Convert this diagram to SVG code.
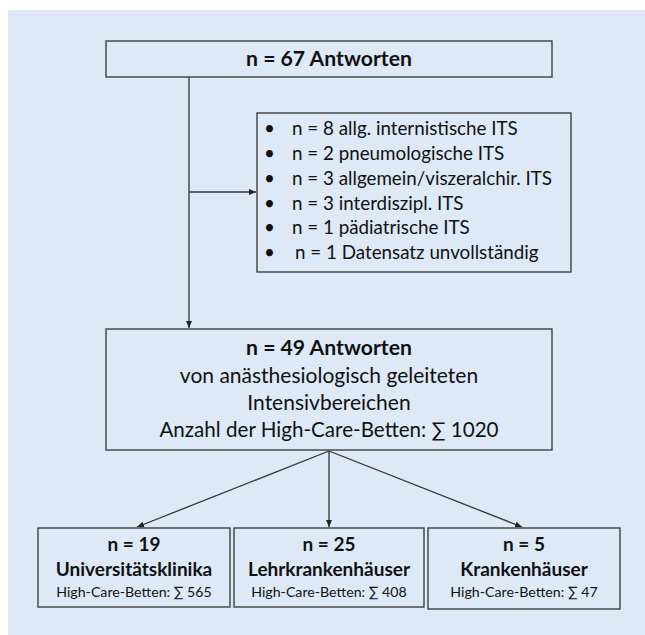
<svg xmlns="http://www.w3.org/2000/svg" width="645" height="635" viewBox="0 0 645 635">
<defs>
<style>
.box{fill:#dde9f6;stroke:#3f3f3f;stroke-width:1.4}
.t{font-family:Lato,"Open Sans","Liberation Sans",sans-serif;fill:#111;text-anchor:middle}
.b{font-weight:bold}
.l{font-family:Lato,"Open Sans","Liberation Sans",sans-serif;fill:#111;font-size:18.8px}
.c{fill:none;stroke:#333;stroke-width:1.3}
</style>
<marker id="ah" markerWidth="8" markerHeight="8" refX="7" refY="4" orient="auto" markerUnits="userSpaceOnUse">
<path d="M0,1 L7,4 L0,7 Z" fill="#222"/>
</marker>
</defs>
<rect x="0" y="0" width="645" height="635" fill="#ffffff"/>
<rect x="8" y="10" width="637" height="625" fill="#dde9f6"/>
<g id="connectors">
<path class="c" d="M189,77 V328" marker-end="url(#ah)"/>
<path class="c" d="M189,192 H256" marker-end="url(#ah)"/>
<path class="c" d="M329,451 L137,527" marker-end="url(#ah)"/>
<path class="c" d="M329,451 V527" marker-end="url(#ah)"/>
<path class="c" d="M329,451 L522,527" marker-end="url(#ah)"/>
</g>
<g id="n67">
<rect class="box" x="106" y="41" width="446" height="36"/>
<text class="t b" x="329" y="66" font-size="21.2">n = 67 Antworten</text>
</g>
<g id="excluded">
<rect class="box" x="257" y="113" width="314" height="159"/>
<g class="l">
<text x="264" y="135">•</text><text x="292" y="135">n = 8 allg. internistische ITS</text>
<text x="264" y="160">•</text><text x="292" y="160">n = 2 pneumologische ITS</text>
<text x="264" y="185">•</text><text x="292" y="185">n = 3 allgemein/viszeralchir. ITS</text>
<text x="264" y="210">•</text><text x="292" y="210">n = 3 interdiszipl. ITS</text>
<text x="264" y="234">•</text><text x="292" y="234">n = 1 pädiatrische ITS</text>
<text x="264" y="259">•</text><text x="295" y="259">n = 1 Datensatz unvollständig</text>
</g>
</g>
<g id="n49">
<rect class="box" x="106" y="329" width="446" height="121"/>
<text class="t b" x="329" y="355" font-size="21.2">n = 49 Antworten</text>
<text class="t" x="329" y="383" font-size="21">von anästhesiologisch geleiteten</text>
<text class="t" x="329" y="410" font-size="21">Intensivbereichen</text>
<text class="t" x="329" y="437" font-size="20.6">Anzahl der High-Care-Betten: ∑ 1020</text>
</g>
<g id="uni">
<rect class="box" x="38" y="528" width="192" height="79"/>
<text class="t b" x="134" y="551" font-size="19">n = 19</text>
<text class="t b" x="134" y="576" font-size="19">Universitätsklinika</text>
<text class="t" x="134" y="597" font-size="14.2">High-Care-Betten: ∑ 565</text>
</g>
<g id="lehr">
<rect class="box" x="234" y="528" width="190" height="79"/>
<text class="t b" x="329" y="551" font-size="19">n = 25</text>
<text class="t b" x="329" y="576" font-size="19">Lehrkrankenhäuser</text>
<text class="t" x="329" y="597" font-size="14.2">High-Care-Betten: ∑ 408</text>
</g>
<g id="kh">
<rect class="box" x="428" y="528" width="192" height="81"/>
<text class="t b" x="524" y="551" font-size="19">n = 5</text>
<text class="t b" x="524" y="576" font-size="19">Krankenhäuser</text>
<text class="t" x="524" y="597" font-size="14.2">High-Care-Betten: ∑ 47</text>
</g>
</svg>
